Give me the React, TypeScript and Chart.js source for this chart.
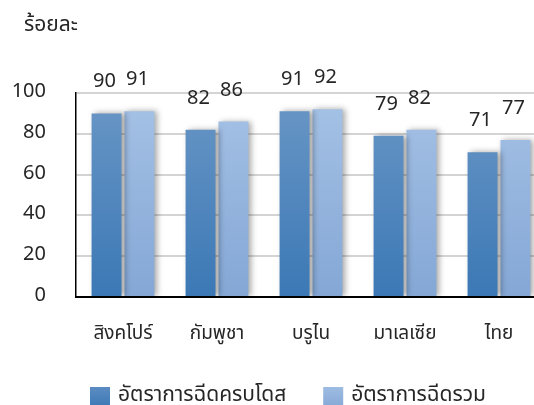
import React, { useEffect, useRef } from "react";
import { Chart, registerables } from "chart.js";

Chart.register(...registerables);

const categories = ["สิงคโปร์", "กัมพูชา", "บรูไน", "มาเลเซีย", "ไทย"];
const fullDoseRate = [90, 82, 91, 79, 71];
const totalRate = [91, 86, 92, 82, 77];
const seriesNames = ["อัตราการฉีดครบโดส", "อัตราการฉีดรวม"];
const unitLabel = "ร้อยละ";

const FONT = "'Noto Sans Thai', 'Leelawadee UI', 'Noto Sans', sans-serif";
const TEXT = "#262626";
const LEGEND_COLORS = [
  ["#5b8cc2", "#3d79b6"],
  ["#9dbce2", "#86a9d6"],
];

function barGradient(ctx: any, top: string, bottom: string) {
  const chart = ctx.chart;
  const area = chart.chartArea;
  if (!area) return bottom;
  const el = ctx.element;
  let y0 = area.top;
  if (el && typeof el.y === "number" && isFinite(el.y)) y0 = el.y;
  const g = chart.ctx.createLinearGradient(0, y0, 0, area.bottom);
  g.addColorStop(0, top);
  g.addColorStop(1, bottom);
  return g;
}

const shadowPlugin = {
  id: "barShadow",
  beforeDatasetsDraw(chart: any) {
    const c = chart.ctx;
    c.save();
    c.shadowColor = "rgba(0,0,0,0.35)";
    c.shadowBlur = 6;
    c.shadowOffsetX = 3;
    c.shadowOffsetY = 0;
  },
  afterDatasetsDraw(chart: any) {
    chart.ctx.restore();
  },
};

const labelPlugin = {
  id: "valueLabels",
  afterDatasetsDraw(chart: any) {
    const c = chart.ctx;
    c.save();
    c.font = `20px ${FONT}`;
    c.fillStyle = TEXT;
    c.textAlign = "center";
    c.textBaseline = "bottom";
    chart.data.datasets.forEach((ds: any, i: number) => {
      const meta = chart.getDatasetMeta(i);
      meta.data.forEach((bar: any, j: number) => {
        c.fillText(String(ds.data[j]), bar.x - 2, bar.y - 20);
      });
    });
    c.font = `21px ${FONT}`;
    c.textAlign = "left";
    c.textBaseline = "middle";
    c.fillText(unitLabel, 24, 27);

    // legend
    c.font = `21px ${FONT}`;
    let x = 90;
    const yTop = 387;
    chart.data.datasets.forEach((ds: any, i: number) => {
      const g = c.createLinearGradient(0, yTop, 0, yTop + 20);
      g.addColorStop(0, LEGEND_COLORS[i][0]);
      g.addColorStop(1, LEGEND_COLORS[i][1]);
      c.fillStyle = g;
      c.fillRect(x, yTop, 20, 20);
      c.fillStyle = TEXT;
      c.fillText(ds.label, x + 28, yTop + 10);
      x += 28 + c.measureText(ds.label).width + 37;
    });
    c.restore();
  },
};

export default function App() {
  const ref = useRef<HTMLCanvasElement | null>(null);
  useEffect(() => {
    if (!ref.current) return;
    const chart = new Chart(ref.current, {
      type: "bar",
      data: {
        labels: categories,
        datasets: [
          {
            label: seriesNames[0],
            data: fullDoseRate,
            backgroundColor: (ctx: any) => barGradient(ctx, "#6a97c6", "#3b78b5"),
            categoryPercentage: 0.70,
            barPercentage: 0.91,
          },
          {
            label: seriesNames[1],
            data: totalRate,
            backgroundColor: (ctx: any) => barGradient(ctx, "#a6c2e6", "#84a7d5"),
            categoryPercentage: 0.70,
            barPercentage: 0.91,
          },
        ],
      },
      options: {
        responsive: false,
        animation: false,
        layout: { padding: { left: 13, right: 34, top: 93, bottom: 58 } },
        plugins: {
          legend: { display: false },
          tooltip: { enabled: false },
        },
        scales: {
          x: {
            grid: { display: false, drawTicks: false },
            border: { display: true, color: "#000", width: 2 },
            ticks: { font: { family: FONT, size: 19 }, color: TEXT, padding: 27 },
            afterFit: (scale: any) => {
              scale.paddingLeft = 0;
              scale.paddingRight = 0;
              scale.height = 50;
            },
          },
          y: {
            min: 0,
            max: 100,
            ticks: { stepSize: 20, font: { family: FONT, size: 20 }, color: TEXT, padding: 30 },
            grid: { color: "#d4d4d4", lineWidth: 2, drawTicks: false },
            border: { display: true, color: "#000", width: 1.5 },
            afterFit: (scale: any) => {
              scale.width = 63;
            },
          },
        },
      },
      plugins: [shadowPlugin, labelPlugin],
    });
    return () => chart.destroy();
  }, []);
  return (
    <div style={{ position: "absolute", left: 0, top: 0, width: 534, height: 405, overflow: "hidden", background: "#fff" }}>
      <canvas ref={ref} width={580} height={405} style={{ display: "block" }} />
    </div>
  );
}
